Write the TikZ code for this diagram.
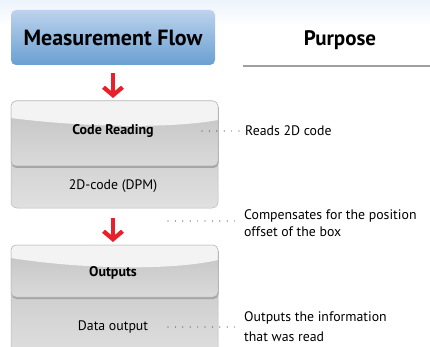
\documentclass[tikz,border=0pt]{standalone}
\usepackage{fontspec}
\setmainfont{PT Sans}
\usetikzlibrary{arrows.meta}
\definecolor{flowblue}{HTML}{6A9FD2}
\definecolor{flowbluetop}{HTML}{BCD3ED}
\definecolor{flowred}{HTML}{E8202A}
\definecolor{shine}{HTML}{F3F3F3}
\definecolor{headtop}{HTML}{C2C2C2}
\definecolor{headbot}{HTML}{DADADA}
\definecolor{bodytop}{HTML}{C2C2C2}
\definecolor{bodybot}{HTML}{E0E0E0}
\definecolor{dotgray}{HTML}{4A4A4A}
\definecolor{skytop}{HTML}{EDF4FC}
\tikzset{
  titlebox/.style={draw=none, top color=flowbluetop, bottom color=flowblue,
    rounded corners=5pt, minimum width=204pt, minimum height=55pt,
    font=\fontsize{22}{24}\selectfont\bfseries},
  purposetxt/.style={font=\fontsize{21}{24}\selectfont\bfseries},
  headtxt/.style={font=\fontsize{14}{16}\selectfont\bfseries, inner sep=0pt},
  bodytxt/.style={font=\fontsize{13.8}{16}\selectfont, inner sep=0pt},
  notetxt/.style={font=\fontsize{13.8}{16}\selectfont, inner sep=0pt, anchor=west, align=left},
  flowarrow/.style={draw=flowred, line width=4.2pt, -{Straight Barb[length=8pt,width=19pt]}},
  dotline/.style={draw=dotgray, line width=1.2pt, line cap=round, dash pattern=on 0pt off 7.4pt},
}
% card with shiny header: #1 top, #2 header bottom, #3 bottom, #4 shine left, #5 shine right, #6 sag
\newcommand{\card}[6]{
  \shade[top color=bodytop, bottom color=bodybot, draw=gray!55, line width=0.5pt, rounded corners=6pt] (11,#1) rectangle (218,#3);
  \fill[black!35, rounded corners=5pt] (11.5,#1+1.5) rectangle (218.5,#2+2);
  \begin{scope}
    \clip[rounded corners=5pt] (11,#1) rectangle (218,#2);
    \shade[top color=headtop, bottom color=headbot] (11,#1) rectangle (218,#2);
    \fill[shine] (11,#1+#4) -- (11,#1) -- (218,#1) -- (218,#1+#5) .. controls (170,#1+#6) and (80,#1+#6-2) .. (11,#1+#4);
  \end{scope}
  \draw[gray!60, line width=0.5pt, rounded corners=5pt] (11,#1) rectangle (218,#2);
}

\begin{document}
\begin{tikzpicture}[x=1pt,y=-1pt]
  \useasboundingbox (0,0) rectangle (430,347);
  \shade[top color=skytop, bottom color=white] (0,0) rectangle (430,26);

  % left column
  \node[titlebox] (flow) at (113,37.5) {Measurement Flow};
  \card{101}{166}{208}{17}{19}{28}
  \card{245}{297}{360}{13}{15}{26}

  \node[headtxt] (reading) at (113,131) {Code Reading};
  \node[bodytxt] (dpm) at (113,186) {2D-code (DPM)};
  \node[headtxt] (outputs) at (113,273) {Outputs};
  \node[bodytxt] (dataout) at (113,327) {Data output};

  \coordinate (readtop) at (113,101);
  \coordinate (readbot) at (113,208);
  \coordinate (outtop) at (113,245);
  \draw[flowarrow, shorten <=8pt, shorten >=3pt] (flow.south) -- (readtop);
  \draw[flowarrow, shorten <=10pt, shorten >=3pt] (readbot) -- (outtop);

  % right column
  \node[purposetxt] (purpose) at (340,40) {Purpose};
  \draw[gray!75, line width=1.2pt] (243,66) -- (430,66);

  \node[notetxt] (reads) at (245,131) {Reads 2D code};
  \node[notetxt] (offset) at (244,223) {Compensates for the position\\[1pt]offset of the box};
  \node[notetxt] (info) at (244,327) {Outputs the information\\[4pt]that was read};

  \coordinate (readdot) at (202,131);
  \coordinate (offdot) at (168,221);
  \coordinate (datadot) at (168,327);
  \draw[dotline, shorten >=6pt] (readdot) -- (reads.west);
  \draw[dotline, shorten >=7pt] (offdot) -- (offset.west |- offdot);
  \draw[dotline, shorten >=7pt] (datadot) -- (info.west);
\end{tikzpicture}
\end{document}
